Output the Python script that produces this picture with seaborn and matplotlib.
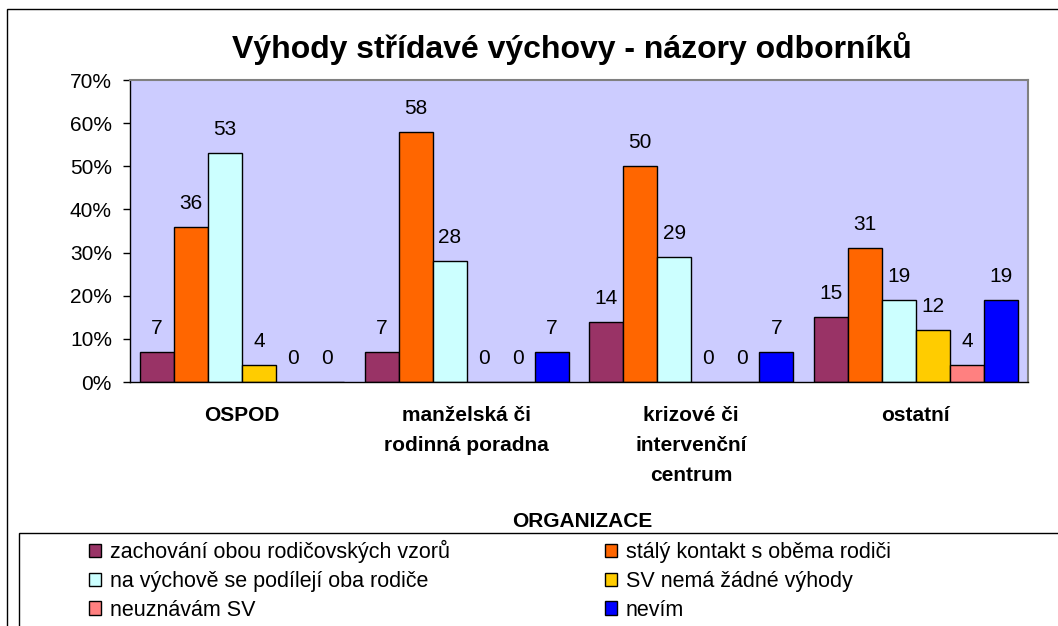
import matplotlib
matplotlib.use("Agg")
import matplotlib.pyplot as plt
import seaborn as sns
import pandas as pd
from matplotlib.patches import Rectangle, Patch

# ---- data ----
categories = ["OSPOD", "manželská či\nrodinná poradna", "krizové či\nintervenční\ncentrum", "ostatní"]
series = ["zachování obou rodičovských vzorů", "stálý kontakt s oběma rodiči",
          "na výchově se podílejí oba rodiče", "SV nemá žádné výhody",
          "neuznávám SV", "nevím"]
zachovani = [7, 7, 14, 15]
staly_kontakt = [36, 58, 50, 31]
na_vychove = [53, 28, 29, 19]
sv_nema = [4, 0, 0, 12]
neuznavam = [0, 0, 0, 4]
nevim = [0, 7, 7, 19]
values = [zachovani, staly_kontakt, na_vychove, sv_nema, neuznavam, nevim]
colors = ["#993366", "#FF6600", "#CCFFFF", "#FFCC00", "#FF8080", "#0000FF"]
yticks = [0, 10, 20, 30, 40, 50, 60, 70]
title = "Výhody střídavé výchovy - názory odborníků"
legend_title = "ORGANIZACE"

rows = []
for s, vals in zip(series, values):
    for c, v in zip(categories, vals):
        rows.append({"org": c, "series": s, "val": v})
df = pd.DataFrame(rows)

sns.set_theme(style="white")
plt.rcParams['font.family'] = ['Liberation Sans', 'DejaVu Sans']
plt.rcParams['text.color'] = 'black'
plt.rcParams['axes.labelcolor'] = 'black'
plt.rcParams['xtick.color'] = 'black'
plt.rcParams['ytick.color'] = 'black'

W, H = 1058, 626
fig = plt.figure(figsize=(W / 100, H / 100), dpi=100)
fig.patch.set_facecolor("white")


def fx(px):
    return px / W


def fy(py):
    return 1 - py / H


ax = fig.add_axes([fx(130), fy(382), fx(1028) - fx(130), fy(80) - fy(382)])
ax.set_facecolor("#CCCCFF")

sns.barplot(data=df, x="org", y="val", hue="series", order=categories, hue_order=series,
            palette=colors, saturation=1, width=0.91, edgecolor="black", linewidth=1.0,
            ax=ax, legend=False)

for cont, vals in zip(ax.containers, values):
    ax.bar_label(cont, labels=[f"{v:g}" for v in vals], padding=10, fontsize=15, color="black")

ax.set_xlim(-0.5, len(categories) - 0.5)
ax.set_ylim(0, 70)
ax.set_yticks(yticks)
ax.set_yticklabels([f"{t}%" for t in yticks])
ax.set_xticks(range(len(categories)))
ax.set_xticklabels(categories, fontweight="bold", linespacing=1.75, fontsize=15)
ax.set_xlabel("")
ax.set_ylabel("")
ax.tick_params(axis="y", left=True, length=5, width=1, pad=8, labelsize=15, color="black", labelcolor="black")
ax.tick_params(axis="x", bottom=False, length=0, pad=17, labelcolor="black")

for side in ["left", "bottom"]:
    ax.spines[side].set_color("black")
    ax.spines[side].set_linewidth(1.0)
for side in ["top", "right"]:
    ax.spines[side].set_color("#808080")
    ax.spines[side].set_linewidth(1.5)

# title
fig.text(fx(572), fy(58), title, ha="center", va="baseline", fontsize=23, fontweight="bold", color="black")
# axis title
fig.text(fx(582), fy(527), legend_title, ha="center", va="baseline", fontsize=15, fontweight="bold", color="black")

# outer chart border and legend frame
fig.add_artist(Rectangle((fx(7), -0.5), 2, fy(9) + 0.5, transform=fig.transFigure,
                         fill=False, edgecolor="black", linewidth=1.0))
fig.add_artist(Rectangle((fx(19), -0.5), 2, fy(533) + 0.5, transform=fig.transFigure,
                         fill=False, edgecolor="black", linewidth=1.0))

# legend
fs = 15.5
em = fs * 100 / 72
renderer = fig.canvas.get_renderer()
tmp = fig.text(0, 0, series[0], fontsize=fs)
wtxt = tmp.get_window_extent(renderer).width
tmp.remove()
hl = 12 / em
htp = 9 / em
col1_end = 89 + 12 + 9 + wtxt
colsp = (605 - col1_end) / em

handles = [Patch(facecolor=c, edgecolor="black", linewidth=1.0) for c in colors]
order = [0, 2, 4, 1, 3, 5]
leg = fig.legend([handles[i] for i in order], [series[i] for i in order], ncol=2,
                 loc="upper left", bbox_to_anchor=(fx(89), fy(540)), bbox_transform=fig.transFigure,
                 frameon=False, fontsize=fs, handlelength=hl, handleheight=hl, handletextpad=htp,
                 columnspacing=colsp, labelspacing=0.36, borderpad=0, borderaxespad=0)
for t in leg.get_texts():
    t.set_color("black")

fig.savefig("out.png", dpi=100, facecolor="white")
